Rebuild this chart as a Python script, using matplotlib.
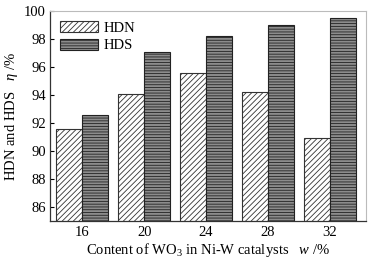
import matplotlib
matplotlib.use('Agg')
import matplotlib.pyplot as plt
import numpy as np

plt.rcParams['font.family'] = ['Liberation Serif', 'DejaVu Serif']
plt.rcParams['mathtext.fontset'] = 'custom'
plt.rcParams['mathtext.rm'] = 'Liberation Serif'
plt.rcParams['mathtext.it'] = 'Liberation Serif:italic'
plt.rcParams['hatch.linewidth'] = 0.6

categories = ['16', '20', '24', '28', '32']
hdn = [91.6, 94.1, 95.6, 94.2, 90.9]
hds = [92.6, 97.1, 98.2, 99.0, 99.5]

x = np.arange(len(categories))
w = 0.42

fig = plt.figure(figsize=(3.76, 2.63), dpi=100)
ax = fig.add_axes([0.133, 0.16, 0.84, 0.798])

ax.bar(x - w / 2, hdn, w, bottom=0, color='white', edgecolor='#333333',
       hatch='//////', linewidth=0.8, label='HDN')
ax.bar(x + w / 2, hds, w, bottom=0, color='#8c8c8c', edgecolor='#222222',
       hatch='------', linewidth=0.8, label='HDS')

ax.set_ylim(85, 100)
ax.set_xlim(-0.52, 4.58)
ax.set_yticks(np.arange(86, 101, 2))
ax.set_xticks(x)
ax.set_xticklabels(categories)
ax.tick_params(axis='y', direction='in', length=3, labelsize=10.5, width=0.8, pad=3)
ax.tick_params(axis='x', length=0, labelsize=10.5, pad=4)

for s in ['top', 'right']:
    ax.spines[s].set_color('#bbbbbb')
for s in ['left', 'bottom']:
    ax.spines[s].set_color('#333333')
    ax.spines[s].set_linewidth(0.9)

ax.set_xlabel('Content of WO$_3$ in Ni-W catalysts   $\\it{w}$ /%', fontsize=10.5, labelpad=1)
ax.set_ylabel('HDN and HDS   $\\it{\\eta}$ /%', fontsize=10.5, labelpad=3)

ax.legend(loc='upper left', frameon=False, fontsize=10.5, handlelength=2.6,
          handleheight=0.8, borderaxespad=0.3, labelspacing=0.25, handletextpad=0.4)

fig.savefig('out.png', dpi=100)
